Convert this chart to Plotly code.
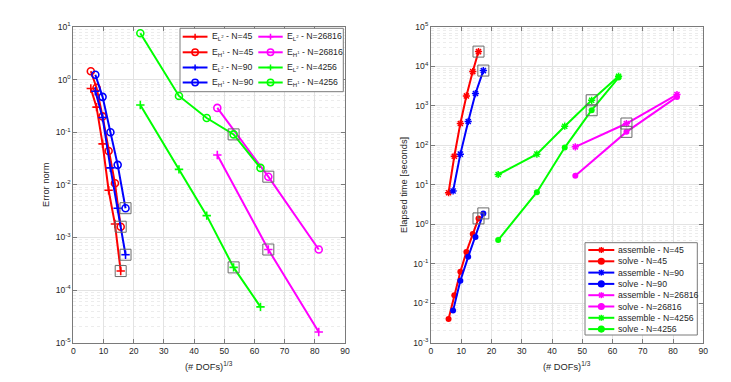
import plotly.graph_objects as go

# (# DOFs)^(1/3) per mesh
dofs_n45 = [5.8, 7.7, 9.7, 11.7, 13.8, 15.7]
dofs_n90 = [7.3, 9.7, 12.3, 14.7, 17.3]
dofs_n26816 = [47.7, 64.6, 81.3]
dofs_n4256 = [22.2, 35.0, 44.2, 53.1, 62.0]

# error norms
err_l2_n45 = [0.68, 0.30, 0.060, 0.0079, 0.0018, 0.00023]
err_h1_n45 = [1.44, 0.70, 0.20, 0.044, 0.0107, 0.0016]
err_l2_n90 = [0.60, 0.19, 0.021, 0.0036, 0.00047]
err_h1_n90 = [1.24, 0.47, 0.10, 0.024, 0.0036]
err_l2_n26816 = [0.037, 0.00059, 1.6e-5]
err_h1_n26816 = [0.29, 0.0143, 0.00059]
err_l2_n4256 = [0.33, 0.0197, 0.0026, 0.00027, 4.8e-5]
err_h1_n4256 = [7.6, 0.49, 0.186, 0.091, 0.021]

# elapsed times [s]
asm_n45 = [6.3, 53, 358, 1790, 7430, 23800]
solve_n45 = [0.004, 0.016, 0.063, 0.20, 0.565, 1.41]
asm_n90 = [7.0, 60, 403, 2060, 7870]
solve_n90 = [0.0065, 0.037, 0.15, 0.48, 1.89]
asm_n26816 = [92, 358, 1945]
solve_n26816 = [16.9, 220, 1690]
asm_n4256 = [18.3, 60, 306, 1390, 5650]
solve_n4256 = [0.4, 6.5, 88, 778, 5240]

# index of the boxed point in each series
marked = {"45": 5, "90": 4, "26816": 1, "4256": 3}

FONT = "Liberation Sans, Arial, sans-serif"
TXT = "#262626"
AXC = "#7a7a7a"
# page body has an 8px margin, so the figure is a bit smaller and everything
# below is laid out in page pixels and shifted back by OFF
OFF = 8
W, H = 731 - OFF, 382 - OFF

series = [
    ("45", "#FF0000", dofs_n45, err_l2_n45, err_h1_n45, asm_n45, solve_n45),
    ("90", "#0000FF", dofs_n90, err_l2_n90, err_h1_n90, asm_n90, solve_n90),
    ("26816", "#FF00FF", dofs_n26816, err_l2_n26816, err_h1_n26816, asm_n26816, solve_n26816),
    ("4256", "#00FF00", dofs_n4256, err_l2_n4256, err_h1_n4256, asm_n4256, solve_n4256),
]

fig = go.Figure()

box_x1, box_y1, box_x2, box_y2 = [], [], [], []
for n, col, x, l2, h1, asm, sol in series:
    fig.add_trace(go.Scatter(
        x=x, y=l2, mode="lines+markers", line=dict(color=col, width=2),
        marker=dict(symbol="cross-thin-open", size=6, line=dict(color=col, width=1.6)),
        xaxis="x", yaxis="y"))
    fig.add_trace(go.Scatter(
        x=x, y=h1, mode="lines+markers", line=dict(color=col, width=2),
        marker=dict(symbol="circle-open", size=7, line=dict(color=col, width=1.6)),
        xaxis="x", yaxis="y"))
    fig.add_trace(go.Scatter(
        x=x, y=asm, mode="lines+markers", line=dict(color=col, width=2),
        marker=dict(symbol="asterisk-open", size=6, line=dict(color=col, width=1.5)),
        xaxis="x2", yaxis="y2"))
    fig.add_trace(go.Scatter(
        x=x, y=sol, mode="lines+markers", line=dict(color=col, width=2),
        marker=dict(symbol="circle", size=6, color=col),
        xaxis="x2", yaxis="y2"))
    k = marked[n]
    box_x1 += [x[k], x[k]]
    box_y1 += [l2[k], h1[k]]
    box_x2 += [x[k], x[k]]
    box_y2 += [asm[k], sol[k]]

sq = dict(symbol="square-open", size=11, color="#6a6a6a", line=dict(width=1))
fig.add_trace(go.Scatter(x=box_x1, y=box_y1, mode="markers", marker=sq, xaxis="x", yaxis="y"))
fig.add_trace(go.Scatter(x=box_x2, y=box_y2, mode="markers", marker=sq, xaxis="x2", yaxis="y2"))


def log_ticks(lo, hi):
    vals = [10.0 ** e for e in range(lo, hi + 1)]
    text = [f"10<sup>{e}</sup>" for e in range(lo, hi + 1)]
    return vals, text


# page pixel -> paper coords
def px(x):
    return (x - OFF) / W


def py(y):
    return 1 - (y - OFF) / H


shapes, annotations = [], []


def seg(x0, y0, x1, y1, col, w=1.5):
    shapes.append(dict(type="line", xref="paper", yref="paper", x0=px(x0), y0=py(y0),
                       x1=px(x1), y1=py(y1), line=dict(color=col, width=w), layer="above"))


def dot(cx, cy, r, col, filled):
    shapes.append(dict(type="circle", xref="paper", yref="paper",
                       x0=px(cx - r), x1=px(cx + r), y0=py(cy + r), y1=py(cy - r),
                       line=dict(color=col, width=1.5),
                       fillcolor=col if filled else "rgba(0,0,0,0)", layer="above"))


def legend_box(x0, y0, x1, y1):
    shapes.append(dict(type="rect", xref="paper", yref="paper", x0=px(x0), x1=px(x1),
                       y0=py(y1), y1=py(y0), line=dict(color=AXC, width=1),
                       fillcolor="white", layer="above"))


def label(x, y, text, size, angle=0, xanchor="center"):
    annotations.append(dict(xref="paper", yref="paper", x=px(x), y=py(y), text=text,
                            xanchor=xanchor, yanchor="middle", showarrow=False, textangle=angle,
                            font=dict(family=FONT, size=size, color=TXT)))


def legend_entry(xl, xr, y, col, symbol, text):
    seg(xl, y, xr, y, col, 2)
    cx = (xl + xr) / 2
    if symbol == "plus":
        seg(cx - 3, y, cx + 3, y, col)
        seg(cx, y - 3, cx, y + 3, col)
    elif symbol == "circle":
        dot(cx, y, 3.2, col, False)
    elif symbol == "star":
        seg(cx - 3, y, cx + 3, y, col)
        seg(cx, y - 3, cx, y + 3, col)
        seg(cx - 2.3, y - 2.3, cx + 2.3, y + 2.3, col)
        seg(cx - 2.3, y + 2.3, cx + 2.3, y - 2.3, col)
    elif symbol == "dot":
        dot(cx, y, 2.8, col, True)
    label(xr + 2, y, text, 8.7, xanchor="left")


# left legend: two columns
legend_box(180, 28.3, 343.3, 91.7)
rows_left = [36.7, 52.3, 67.5, 82.5]
for j, (n, col, *_rest) in enumerate(series):
    xl, xr = (182.7, 207.5) if j < 2 else (258.3, 282.7)
    r = (j % 2) * 2
    legend_entry(xl, xr, rows_left[r], col, "plus", f"E<sub>L<sup>2</sup></sub> - N={n}")
    legend_entry(xl, xr, rows_left[r + 1], col, "circle", f"E<sub>H<sup>1</sup></sub> - N={n}")

# right legend: one column
legend_box(585, 242.7, 697.3, 335)
rows_right = [250, 261.3, 272.6, 283.9, 295.2, 306.5, 317.8, 329.1]
for j, (n, col, *_rest) in enumerate(series):
    legend_entry(588.3, 614.3, rows_right[2 * j], col, "star", f"assemble - N={n}")
    legend_entry(588.3, 614.3, rows_right[2 * j + 1], col, "dot", f"solve - N={n}")

# axis titles
label(209, 366, "(# DOFs)<sup>1/3</sup>", 9.3)
label(567, 366, "(# DOFs)<sup>1/3</sup>", 9.3)
label(46, 185, "Error norm", 9.3, angle=-90)
label(404, 185, "Elapsed time [seconds]", 9.3, angle=-90)

ax_common = dict(
    showline=True, linecolor=AXC, linewidth=1, mirror="ticks",
    ticks="inside", ticklen=4, tickcolor=AXC, automargin=False,
    showgrid=True, gridcolor="#e3e3e3", gridwidth=1, zeroline=False,
    tickfont=dict(family=FONT, size=8.6, color=TXT),
)
xax = dict(ax_common, range=[0, 90], tickvals=list(range(0, 91, 10)))

yv1, yt1 = log_ticks(-5, 1)
yv2, yt2 = log_ticks(-3, 5)
minor = dict(showgrid=True, gridcolor="#ececec", griddash="dot", ticks="", dtick="D1")

fig.update_layout(
    width=W, height=H,
    margin=dict(l=0, r=0, t=0, b=0),
    paper_bgcolor="white", plot_bgcolor="white",
    showlegend=False,
    font=dict(family=FONT, size=9, color=TXT),
    xaxis=dict(xax, domain=[px(73.3), px(345)], anchor="y"),
    yaxis=dict(ax_common, type="log", range=[-5, 1], tickvals=yv1, ticktext=yt1, minor=minor,
               domain=[py(342.7), py(27)], anchor="x"),
    xaxis2=dict(xax, domain=[px(431), px(703.3)], anchor="y2"),
    yaxis2=dict(ax_common, type="log", range=[-3, 5], tickvals=yv2, ticktext=yt2, minor=minor,
                domain=[py(342.7), py(27)], anchor="x2"),
    shapes=shapes,
    annotations=annotations,
)

fig.write_html("out.html")
